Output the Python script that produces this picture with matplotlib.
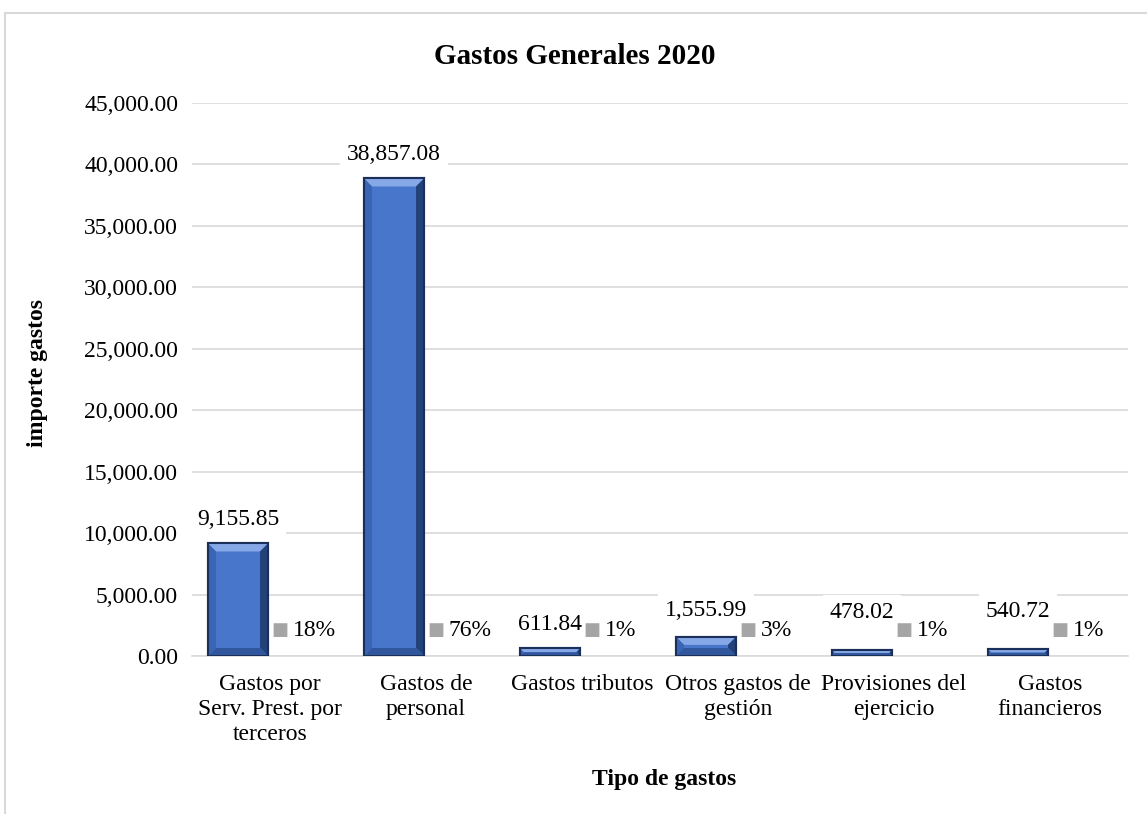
import matplotlib
matplotlib.use('Agg')
import matplotlib.pyplot as plt
from matplotlib.patches import Polygon
from matplotlib.lines import Line2D
import numpy as np

# data
categorias = ['Gastos por\nServ. Prest. por\nterceros', 'Gastos de\npersonal', 'Gastos tributos',
              'Otros gastos de\ngestión', 'Provisiones del\nejercicio', 'Gastos\nfinancieros']
importes = [9155.85, 38857.08, 611.84, 1555.99, 478.02, 540.72]
porcentajes = [18, 76, 1, 3, 1, 1]
yticks = [0, 5000, 10000, 15000, 20000, 25000, 30000, 35000, 40000, 45000]

# extra lift (px) Excel gave some value labels
label_dy = [24, 24, 24, 26, 38, 38]

W, H, DPI = 1147, 814, 100
plt.rcParams['font.family'] = ['Liberation Serif', 'DejaVu Serif']
FS = 17

fig = plt.figure(figsize=(W / DPI, H / DPI), dpi=DPI)
fig.patch.set_facecolor('white')

# outer chart border (light gray, cropped on the right/bottom)
fig.add_artist(Line2D([5 / W, 5 / W], [0, 1 - 13 / H], color='#d9d9d9', lw=1.5))
fig.add_artist(Line2D([5 / W, 1], [1 - 13 / H, 1 - 13 / H], color='#d9d9d9', lw=1.5))

left, right, top, bottom = 192, 1128, 103, 656
ax = fig.add_axes([left / W, 1 - bottom / H, (right - left) / W, (bottom - top) / H])

x = np.arange(len(categorias))
bw = 60 / 156.0
off = 32 / 156.0

ax.set_xlim(-0.5, len(categorias) - 0.5)
ax.set_ylim(0, 45000)

blue = ax.bar(x - off, importes, bw, color='#4776cb', edgecolor='#1a2f5a', linewidth=1.5, zorder=3)
gray = ax.bar(x + off, [p / 100.0 for p in porcentajes], bw, color='#a5a5a5', zorder=3)

# fake the Excel bevel
fig.canvas.draw()
tr = ax.transData
inv = tr.inverted()
for p in blue.patches:
    (x0, y0) = tr.transform((p.get_x(), 0))
    (x1, y1) = tr.transform((p.get_x() + p.get_width(), p.get_height()))
    b = min(8, (y1 - y0) / 2.0, (x1 - x0) / 2.0)
    faces = [
        ([(x0, y1), (x1, y1), (x1 - b, y1 - b), (x0 + b, y1 - b)], '#86a8e6'),
        ([(x0, y0), (x0, y1), (x0 + b, y1 - b), (x0 + b, y0 + b)], '#3a64b4'),
        ([(x1, y0), (x1, y1), (x1 - b, y1 - b), (x1 - b, y0 + b)], '#24427a'),
        ([(x0, y0), (x1, y0), (x1 - b, y0 + b), (x0 + b, y0 + b)], '#30579e'),
    ]
    for pts, c in faces:
        ax.add_patch(Polygon(inv.transform(pts), closed=True, facecolor=c, edgecolor='none', zorder=4))
    ax.add_patch(Polygon(inv.transform([(x0, y0), (x1, y0), (x1, y1), (x0, y1)]), closed=True,
                         facecolor='none', edgecolor='#1a2f5a', linewidth=1.5, zorder=5))

# value labels
for p, v, dy in zip(blue.patches, importes, label_dy):
    ax.annotate(f'{v:,.2f}', xy=(p.get_x() + p.get_width() / 2, v), xytext=(0, dy * 0.72),
                textcoords='offset points', ha='center', va='center', fontsize=FS,
                bbox=dict(boxstyle='square,pad=0.3', fc='white', ec='none'), zorder=6)

# percentage labels with gray legend key
for p, pc in zip(gray.patches, porcentajes):
    cx = p.get_x() + p.get_width() / 2
    ax.annotate(f'{pc}%', xy=(cx, p.get_height()), xytext=(-9 * 0.72, 25 * 0.72),
                textcoords='offset points', ha='left', va='center', fontsize=FS,
                bbox=dict(boxstyle='square,pad=0.2', fc='white', ec='none'), zorder=6)
    ax.annotate('■', xy=(cx, p.get_height()), xytext=(-22 * 0.72, 26 * 0.72),
                textcoords='offset points', ha='center', va='center', fontsize=13,
                color='#a5a5a5', family='DejaVu Sans', zorder=7)

ax.set_yticks(yticks)
ax.set_yticklabels([f'{t:,.2f}' for t in yticks], fontsize=FS)
ax.set_xticks(x)
ax.set_xticklabels(categorias, fontsize=FS, linespacing=1.25, va='top')
ax.tick_params(axis='both', length=0)
ax.tick_params(axis='y', pad=10)
ax.tick_params(axis='x', pad=13)

ax.yaxis.grid(True, color='#d9d9d9', linewidth=1.2, zorder=0)
ax.set_axisbelow(True)
for s in ['top', 'right', 'left']:
    ax.spines[s].set_visible(False)
ax.spines['bottom'].set_color('#d9d9d9')
ax.spines['bottom'].set_linewidth(1.2)

fig.text(575 / W, 1 - 57 / H, 'Gastos Generales 2020', ha='center', va='center',
         fontsize=21, fontweight='bold')
fig.text(38 / W, 1 - 373 / H, 'importe gastos', ha='center', va='center', rotation=90,
         fontsize=17, fontweight='bold')
fig.text(664 / W, 1 - 780 / H, 'Tipo de gastos', ha='center', va='center',
         fontsize=17, fontweight='bold')

fig.savefig('out.png', dpi=DPI)
